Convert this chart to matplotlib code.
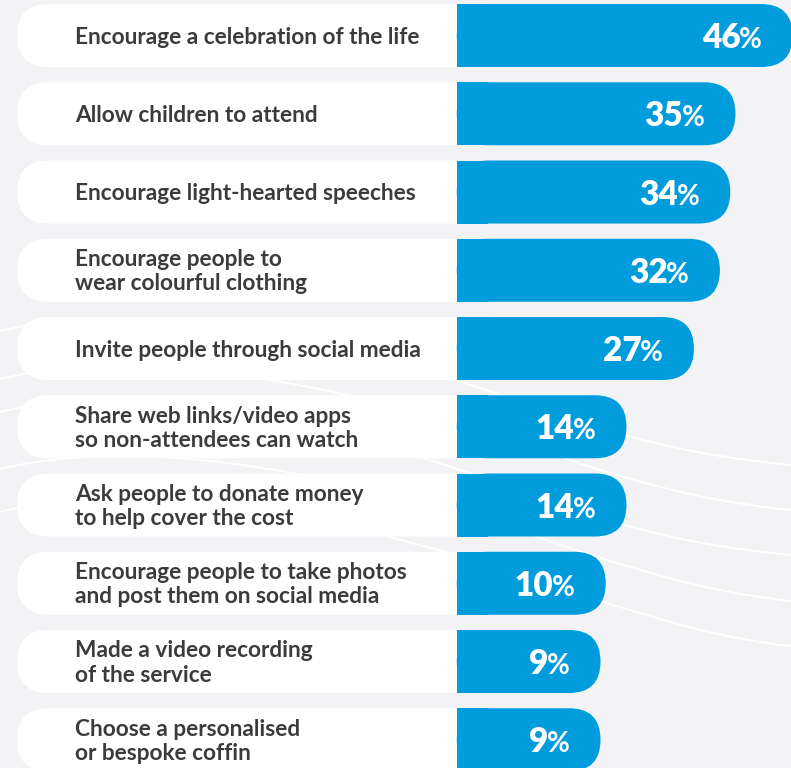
import numpy as np
import matplotlib
matplotlib.use("Agg")
import matplotlib.pyplot as plt
from matplotlib.patches import FancyBboxPatch, Rectangle, PathPatch, BoxStyle
from matplotlib.path import Path


## data
labels = [
    "Encourage a celebration of the life",
    "Allow children to attend",
    "Encourage light-hearted speeches",
    "Encourage people to\nwear colourful clothing",
    "Invite people through social media",
    "Share web links/video apps\nso non-attendees can watch",
    "Ask people to donate money\nto help cover the cost",
    "Encourage people to take photos\nand post them on social media",
    "Made a video recording\nof the service",
    "Choose a personalised\nor bespoke coffin",
]
values = [46, 35, 34, 32, 27, 14, 14, 10, 9, 9]

## style
BG = "#f3f3f6"
BLUE = "#009cdc"
TEXT = "#3b3b3b"
W, H = 791, 768

# layout, in data units (x = percent, y = row index)
XLIM = (-106.7, 45.7)
YLIM = (9.361, -0.454)
BAR_START = -18.7      # blue bars begin here
PILL_START = -103.4    # white label pill begins here
LABEL_X = -92.3
BAR_H = 0.805


def bezier_curve(ax, pts, **kw):
    verts = pts
    codes = [Path.MOVETO] + [Path.CURVE4] * (len(pts) - 1)
    ax.add_patch(PathPatch(Path(verts, codes), facecolor="none", **kw))


def main():
    fig = plt.figure(figsize=(W / 100, H / 100), dpi=100)
    fig.patch.set_facecolor(BG)

    ## background swoosh lines, drawn in pixel space
    bg = fig.add_axes([0, 0, 1, 1], zorder=0)
    bg.set_xlim(0, W)
    bg.set_ylim(H, 0)
    bg.axis("off")
    bg.set_facecolor(BG)
    swoosh = [(332, 428, 466), (380, 470, 511), (413, 518, 556),
              (470, 558, 602), (513, 601, 647)]
    for yl, ym, yr in swoosh:
        pts = [(-5, yl), (200, yl - 50), (480, ym - 40), (600, ym),
               (670, ym + 21), (720, yr - 8), (800, yr)]
        bezier_curve(bg, pts, edgecolor="white", lw=1.4)

    ## main axes
    ax = fig.add_axes([0, 0, 1, 1], zorder=1)
    ax.set_xlim(*XLIM)
    ax.set_ylim(*YLIM)
    ax.axis("off")
    ax.patch.set_alpha(0)

    # aspect so that rounded ends are true half circles
    px_x = W / (XLIM[1] - XLIM[0])
    px_y = H / abs(YLIM[0] - YLIM[1])
    asp = px_x / px_y
    r = BAR_H / 2 / asp

    renderer = fig.canvas.get_renderer()

    for i, (lab, v) in enumerate(zip(labels, values)):
        y0 = i - BAR_H / 2
        # white pill behind the label
        ax.add_patch(FancyBboxPatch(
            (PILL_START, y0), BAR_START + r - PILL_START, BAR_H,
            boxstyle=BoxStyle.Round(pad=0, rounding_size=r),
            mutation_aspect=asp, fc="white", ec="none", zorder=2))
        # blue bar, square on the left
        ax.add_patch(FancyBboxPatch(
            (BAR_START, y0), v - BAR_START, BAR_H,
            boxstyle=BoxStyle.Round(pad=0, rounding_size=r),
            mutation_aspect=asp, fc=BLUE, ec="none", zorder=3))
        ax.add_patch(Rectangle((BAR_START, y0), r, BAR_H,
                               fc=BLUE, ec="none", zorder=3))

        ax.text(LABEL_X, i + 1.5 / px_y, lab, ha="left", va="center",
                fontsize=16.3, fontweight="bold", family="Lato", color=TEXT,
                linespacing=1.2, zorder=4)

        # value: bold number with a lighter percent sign
        base = i + 12.5 / px_y
        pct = ax.text(v - 31 / px_x, base, "%", ha="right", va="baseline",
                      fontsize=20, family="Lato", fontweight="bold",
                      color="white", zorder=4)
        bb = pct.get_window_extent(renderer)
        x_left = ax.transData.inverted().transform((bb.x0, bb.y0))[0]
        ax.text(x_left + 0.3, base, str(v), ha="right", va="baseline",
                fontsize=24, family="Lato", fontweight="heavy",
                color="white", zorder=4)

    fig.savefig("out.png", dpi=100, facecolor=BG)


if __name__ == '__main__':
    main()
